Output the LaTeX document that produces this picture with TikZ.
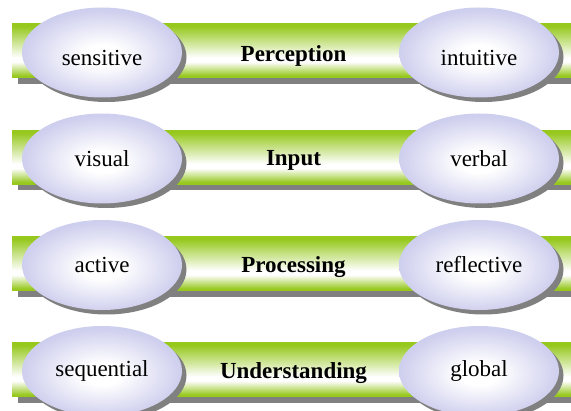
\documentclass[tikz,border=0pt]{standalone}
\usepackage{fontspec}
\setmainfont{Liberation Serif}
\usetikzlibrary{shapes.geometric,shadows}

\definecolor{bargreen}{RGB}{150,200,30}
\definecolor{ovallav}{RGB}{206,206,238}
\definecolor{shadowgray}{RGB}{128,128,128}

% green-white-green band across each bar (path spans 25bp..75bp)
\pgfdeclareverticalshading{barshade}{100bp}{%
  color(0bp)=(bargreen); color(27bp)=(bargreen);
  color(40bp)=(white); color(44bp)=(white);
  color(73bp)=(bargreen); color(100bp)=(bargreen)}
% soft white centre fading to lavender at the rim
\pgfdeclareradialshading{ovalshade}{\pgfpoint{0bp}{-2bp}}{%
  color(0bp)=(white); color(6bp)=(white);
  color(25bp)=(ovallav); color(50bp)=(ovallav)}

\tikzset{
  bar/.style={rectangle, minimum width=563pt, minimum height=54pt,
    inner sep=0pt, shading=barshade,
    drop shadow={shadow xshift=6pt, shadow yshift=-6pt,
      fill=shadowgray, opacity=1}},
  oval/.style={ellipse, minimum width=160pt, minimum height=90pt,
    inner sep=0pt, shading=ovalshade,
    drop shadow={shadow xshift=4.5pt, shadow yshift=-4.5pt,
      fill=shadowgray, opacity=1}},
  bartext/.style={inner sep=0pt, font=\fontsize{23}{27}\selectfont\bfseries},
  ovaltext/.style={inner sep=0pt, font=\fontsize{23}{27}\selectfont},
}

\begin{document}
\begin{tikzpicture}[x=1pt,y=1pt]
  \useasboundingbox (0,0) rectangle (571,-411);
  \clip (0,0) rectangle (571,-411);

  % row 1
  \node[bar]  (bar1) at (293.5,-51) {};
  \node[oval] (l1)   at (102,-52.5) {};
  \node[oval] (r1)   at (479,-52.5) {};
  \node[bartext]  (bar1t) at ([yshift=-5pt]bar1.center) {Perception};
  \node[ovaltext] (l1t)   at ([yshift=-6pt]l1.center) {sensitive};
  \node[ovaltext] (r1t)   at ([yshift=-6pt]r1.center) {intuitive};

  % row 2
  \node[bar]  (bar2) at (293.5,-157.5) {};
  \node[oval] (l2)   at (102,-158.5) {};
  \node[oval] (r2)   at (479,-158.5) {};
  \node[bartext]  (bar2t) at ([yshift=-3pt]bar2.center) {Input};
  \node[ovaltext] (l2t)   at (l2.center) {visual};
  \node[ovaltext] (r2t)   at (r2.center) {verbal};

  % row 3
  \node[bar]  (bar3) at (293.5,-264) {};
  \node[oval] (l3)   at (102,-265) {};
  \node[oval] (r3)   at (479,-265) {};
  \node[bartext]  (bar3t) at ([yshift=-3pt]bar3.center) {Processing};
  \node[ovaltext] (l3t)   at (l3.center) {active};
  \node[ovaltext] (r3t)   at (r3.center) {reflective};

  % row 4
  \node[bar]  (bar4) at (293.5,-370) {};
  \node[oval] (l4)   at (102,-371) {};
  \node[oval] (r4)   at (479,-371) {};
  \node[bartext]  (bar4t) at ([yshift=-3pt]bar4.center) {Understanding};
  \node[ovaltext] (l4t)   at (l4.center) {sequential};
  \node[ovaltext] (r4t)   at (r4.center) {global};
\end{tikzpicture}
\end{document}
